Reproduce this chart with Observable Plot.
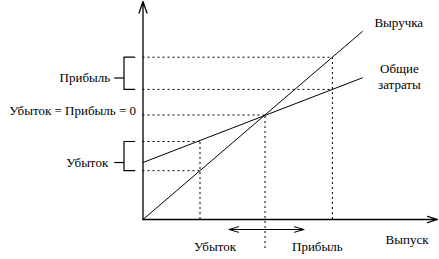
<!DOCTYPE html>
<html>
<head>
<meta charset="utf-8">
<script src="https://cdn.jsdelivr.net/npm/d3@7"></script>
<script src="https://cdn.jsdelivr.net/npm/@observablehq/plot@0.6"></script>
<style>
  html, body { margin: 0; padding: 0; background: #fff; }
  #chart svg { display: block; }
  #chart svg text { font-family: "Liberation Serif", "DejaVu Serif", serif !important; }
</style>
</head>
<body>
<div id="chart"></div>
<script>
// ---- diagram values (abstract units: output along x, money along y) ----
const outputGuides = [57, 122, 189.4];          // loss output, break-even output, profit output
const revenueX = [0, 219.4];
const revenueY = [0, 188];
const costX = [0, 219.4];
const costY = [57, 141.7];
const lossLevels = [78, 48.8];                   // cost, revenue at loss output
const breakEvenLevel = 104.5;
const profitLevels = [162.3, 130.1];             // revenue, cost at profit output
const bracketMid = [141.5, 57];                  // where the bracket pointer sits (profit, loss)
const axisEnds = [294.5, 218];                   // x axis end, y axis end
const arrowSpan = [86, 161];                     // double arrow along output
const arrowLevel = -10;
const lineLabels = ["Выручка", "Общие", "затраты"];
const sideLabels = ["Прибыль", "Убыток", "Убыток = Прибыль = 0"];
const bottomLabels = ["Убыток", "Прибыль", "Выпуск"];

// ---- tables built from the values ----
const lines = [
  ...revenueX.map((x, i) => ({x, y: revenueY[i], s: "revenue"})),
  ...costX.map((x, i) => ({x, y: costY[i], s: "cost"}))
];
const hGuides = [
  {x: outputGuides[2], y: profitLevels[0]},
  {x: outputGuides[2], y: profitLevels[1]},
  {x: outputGuides[1], y: breakEvenLevel},
  {x: outputGuides[0], y: lossLevels[0]},
  {x: outputGuides[0], y: lossLevels[1]}
];
const vGuides = [
  {x: outputGuides[0], y1: 0, y2: lossLevels[0]},
  {x: outputGuides[1], y1: -29, y2: breakEvenLevel},
  {x: outputGuides[2], y1: 0, y2: profitLevels[0]}
];
const bx = -19, bIn = -8.3, bOut = -28.8;
const brackets = [
  [profitLevels[0], profitLevels[1]],
  [lossLevels[0], lossLevels[1]]
].flatMap(([a, b], k) => [
  {x: bIn, y: a, k}, {x: bx, y: a, k}, {x: bx, y: b, k}, {x: bIn, y: b, k}
]);
const pointers = bracketMid.map(y => ({x1: bx, x2: bOut, y}));

const font = "Liberation Serif";
const txt = (o) => ({fill: "#000", fontFamily: font, fontSize: 13, text: d => d, ...o});

const chart = Plot.plot({
  width: 439,
  height: 259,
  margin: 0,
  x: {domain: [-142.5, 296.5], range: [0, 439], axis: null},
  y: {domain: [-40, 219], range: [259, 0], axis: null},
  style: {fontFamily: font, fontSize: "13px", background: "#fff", color: "#000"},
  marks: [
    // dotted guides
    Plot.ruleY(hGuides, {y: "y", x1: 0, x2: "x", stroke: "#000", strokeWidth: 1, strokeDasharray: "2,3"}),
    Plot.ruleX(vGuides, {x: "x", y1: "y1", y2: "y2", stroke: "#000", strokeWidth: 1, strokeDasharray: "2,3"}),
    // revenue and total cost lines
    Plot.line(lines, {x: "x", y: "y", z: "s", stroke: "#000", strokeWidth: 1}),
    // axes with arrowheads
    Plot.arrow([{x1: 0, y1: 0, x2: 0, y2: axisEnds[1]}], {x1: "x1", y1: "y1", x2: "x2", y2: "y2", stroke: "#000", strokeWidth: 1.3, headAngle: 38, headLength: 14}),
    Plot.arrow([{x1: 0, y1: 0, x2: axisEnds[0], y2: 0}], {x1: "x1", y1: "y1", x2: "x2", y2: "y2", stroke: "#000", strokeWidth: 1.3, headAngle: 34, headLength: 12}),
    // double arrow under the break-even point
    Plot.arrow([
      {x1: outputGuides[1], x2: arrowSpan[0]},
      {x1: outputGuides[1], x2: arrowSpan[1]}
    ], {x1: "x1", x2: "x2", y1: arrowLevel, y2: arrowLevel, stroke: "#000", strokeWidth: 1, headAngle: 32, headLength: 15}),
    // brackets
    Plot.line(brackets, {x: "x", y: "y", z: "k", stroke: "#000", strokeWidth: 1.2}),
    Plot.link(pointers, {x1: "x1", x2: "x2", y1: "y", y2: "y", stroke: "#000", strokeWidth: 1.2}),
    // line labels
    Plot.text([lineLabels[0]], txt({x: revenueX[1], y: revenueY[1], textAnchor: "start", dx: 12, dy: -8.5})),
    Plot.text([lineLabels[1]], txt({x: costX[1], y: costY[1], textAnchor: "middle", dx: 37, dy: -9})),
    Plot.text([lineLabels[2]], txt({x: costX[1], y: costY[1], textAnchor: "middle", dx: 37, dy: 6.7})),
    // side labels
    Plot.text([sideLabels[0]], txt({x: bOut, y: bracketMid[0], textAnchor: "end", dx: -4, dy: 0.3})),
    Plot.text([sideLabels[1]], txt({x: bOut, y: bracketMid[1], textAnchor: "end", dx: -6, dy: 0.5})),
    Plot.text([sideLabels[2]], txt({x: 0, y: breakEvenLevel, textAnchor: "end", dx: -7, dy: -4})),
    // bottom labels
    Plot.text([bottomLabels[0]], txt({x: outputGuides[1], y: arrowLevel, textAnchor: "end", dx: -29, dy: 17.3})),
    Plot.text([bottomLabels[1]], txt({x: outputGuides[1], y: arrowLevel, textAnchor: "start", dx: 27, dy: 17.3})),
    Plot.text([bottomLabels[2]], txt({x: axisEnds[0], y: 0, textAnchor: "end", dx: -9, dy: 20}))
  ]
});
document.getElementById("chart").appendChild(chart);
</script>
</body>
</html>
